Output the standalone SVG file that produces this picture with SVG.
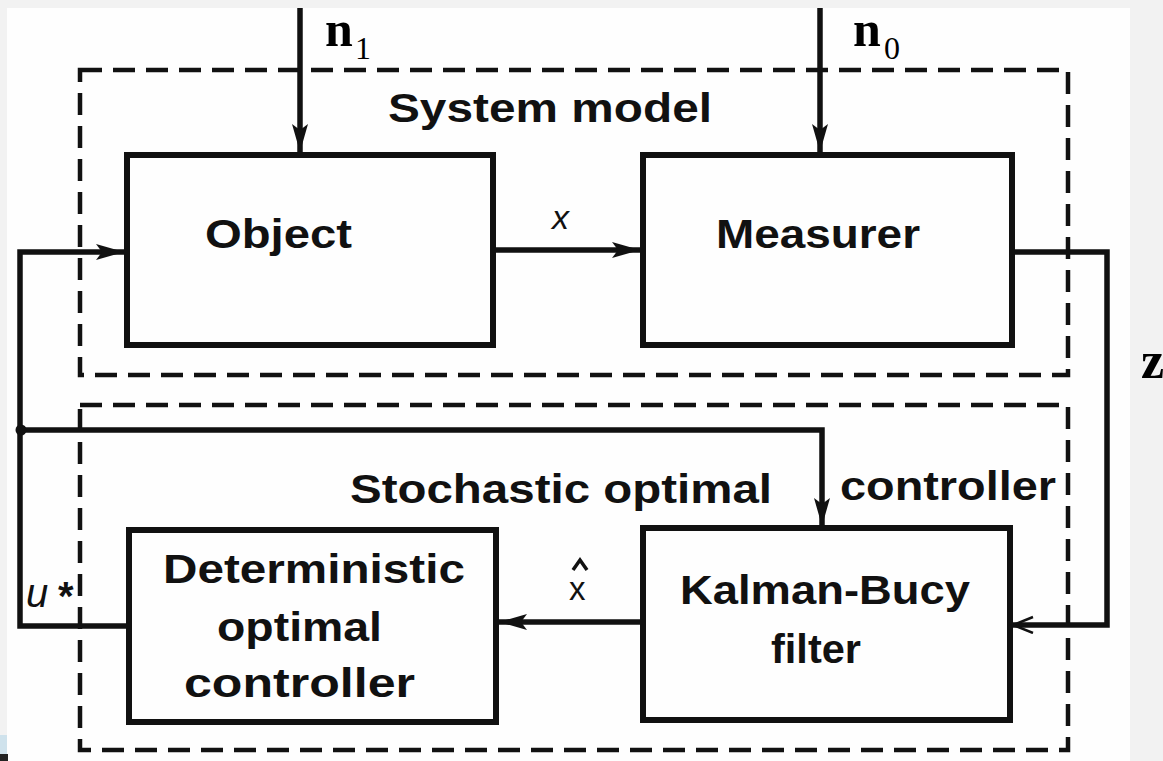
<svg xmlns="http://www.w3.org/2000/svg" width="1163" height="761" viewBox="0 0 1163 761">
<defs>
<marker id="ah" markerUnits="userSpaceOnUse" markerWidth="30" markerHeight="18" refX="28" refY="8" orient="auto">
<path d="M0,0 L28,8 L0,16 L6,8 z" fill="#111"/>
</marker>
<marker id="oh" markerUnits="userSpaceOnUse" markerWidth="26" markerHeight="20" refX="22" refY="9" orient="auto">
<path d="M2,1 L22,9 L2,17" fill="none" stroke="#111" stroke-width="2.5"/>
</marker>
<style>
.box{fill:none;stroke:#111;stroke-width:6}
.dash{fill:none;stroke:#111;stroke-width:4.5;stroke-dasharray:22 11}
.wire{fill:none;stroke:#111;stroke-width:5.5}
.lbl{font-family:"Liberation Sans",Arial,sans-serif;font-weight:bold;font-size:41px;fill:#111}
.math{font-family:"Liberation Serif","Times New Roman",serif;fill:#000}
.sym{font-family:"Liberation Sans",Arial,sans-serif;fill:#111}
</style>
</defs>
<rect x="0" y="0" width="1163" height="761" fill="#f2f2f2"/>
<rect x="7" y="8" width="1123" height="753" fill="#fefefe"/>
<rect x="0" y="735" width="7" height="19" fill="#cfe2ec"/>
<rect x="0" y="754" width="8" height="7" fill="#222"/>

<g id="system-model">
<rect class="dash" x="80" y="70" width="988" height="305"/>
<text class="lbl" x="388" y="122" textLength="324" lengthAdjust="spacingAndGlyphs">System model</text>
</g>
<g id="stochastic-controller">
<rect class="dash" x="80" y="405" width="988" height="345"/>
<text class="lbl" x="350" y="503" textLength="422" lengthAdjust="spacingAndGlyphs">Stochastic optimal</text>
<text class="lbl" x="840" y="500" textLength="216" lengthAdjust="spacingAndGlyphs">controller</text>
</g>

<g id="object">
<rect class="box" x="127" y="155" width="366" height="190"/>
<text class="lbl" x="205" y="248" textLength="147" lengthAdjust="spacingAndGlyphs">Object</text>
</g>
<g id="measurer">
<rect class="box" x="643" y="155" width="369" height="190"/>
<text class="lbl" x="716" y="248" textLength="204" lengthAdjust="spacingAndGlyphs">Measurer</text>
</g>
<g id="deterministic">
<rect class="box" x="129" y="530" width="367" height="192"/>
<text class="lbl" x="163" y="583" textLength="302" lengthAdjust="spacingAndGlyphs">Deterministic</text>
<text class="lbl" x="217" y="641" textLength="165" lengthAdjust="spacingAndGlyphs">optimal</text>
<text class="lbl" x="184" y="697" textLength="231" lengthAdjust="spacingAndGlyphs">controller</text>
</g>
<g id="kalman">
<rect class="box" x="643" y="528" width="367" height="192"/>
<text class="lbl" x="680" y="604" textLength="290" lengthAdjust="spacingAndGlyphs">Kalman-Bucy</text>
<text class="lbl" x="771" y="663" textLength="90" lengthAdjust="spacingAndGlyphs">filter</text>
</g>

<g id="connectors">
<path class="wire" d="M300,8 V152" marker-end="url(#ah)"/>
<path class="wire" d="M820,8 V152" marker-end="url(#ah)"/>
<path class="wire" d="M493,250 H640" marker-end="url(#ah)"/>
<path class="wire" d="M1012,252 H1107 V625 H1013" marker-end="url(#oh)"/>
<path class="wire" d="M643,622 H499" marker-end="url(#ah)"/>
<path class="wire" d="M129,626 H20 V252 H124" marker-end="url(#ah)"/>
<path class="wire" d="M20,430 H822 V526" marker-end="url(#ah)"/>
<circle cx="21" cy="430" r="5.5" fill="#111"/>
</g>

<g id="labels">
<text class="math" x="325" y="46" font-size="50" font-weight="bold">n</text>
<text class="math" x="355" y="59" font-size="32">1</text>
<text class="math" x="853" y="46" font-size="50" font-weight="bold">n</text>
<text class="math" x="884" y="59" font-size="32">0</text>
<text class="math" x="1141" y="378" font-size="52" font-weight="bold">z</text>
<text class="sym" x="552" y="229" font-style="italic" font-size="34">x</text>
<text class="sym" x="569" y="600" font-size="33">x</text>
<path d="M573,570 L580,560 L587,570" fill="none" stroke="#111" stroke-width="3.5"/>
<text class="sym" x="26" y="607" font-style="italic" font-size="40">u</text>
<text class="sym" x="58" y="610" font-weight="bold" font-size="40">*</text>
</g>
</svg>
